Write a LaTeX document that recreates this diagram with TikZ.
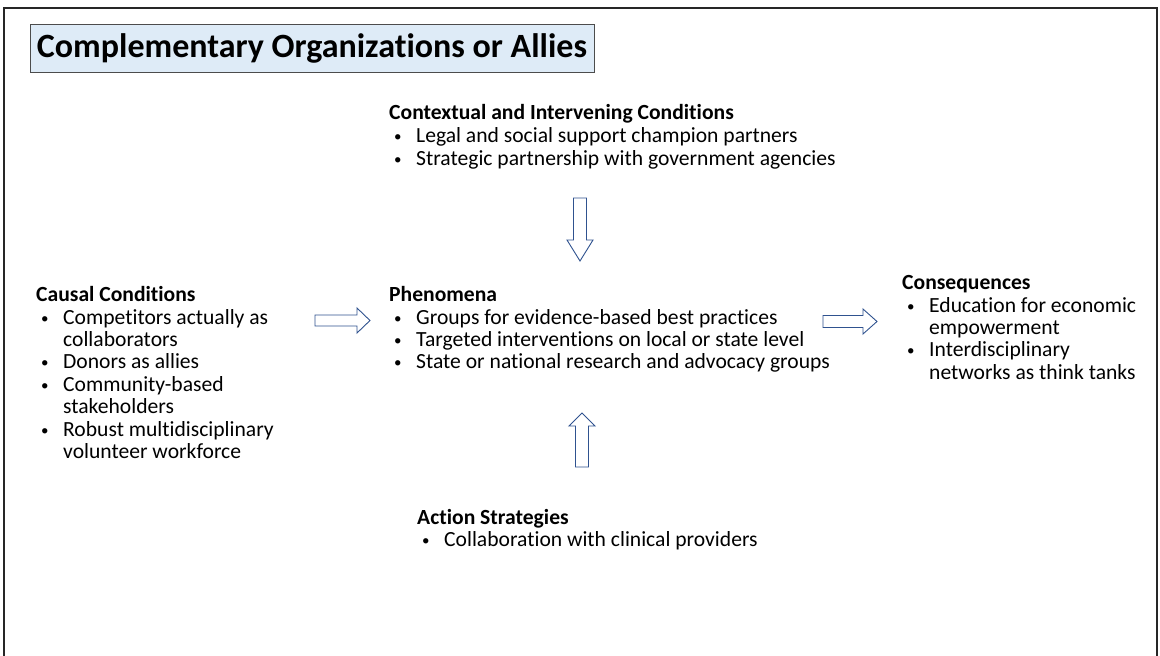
\documentclass[tikz,border=0pt]{standalone}
\usepackage{fontspec}
\setmainfont{Carlito}[Ligatures=NoCommon]
\definecolor{arrowblue}{HTML}{2F528F}
\definecolor{titlefill}{HTML}{DEEBF7}
% bullet column and continuation indent
\newcommand{\bulitem}{\hspace*{5pt}\makebox[22pt][l]{\raisebox{1pt}{\fontsize{15}{15}\selectfont\textbullet}}}
\newcommand{\contline}{\hspace*{27pt}}
% fixed ascent for the first line, so a block's top sits 17pt above its first baseline
\newcommand{\firstline}{\rule{0pt}{17pt}}
\begin{document}
\begin{tikzpicture}[x=1pt,y=-1pt,
  block/.style={anchor=north west,inner sep=0pt,align=left,
    font=\fontsize{21.6}{22.4}\selectfont},
  blockarrow/.style={draw=arrowblue,line width=0.9pt,fill=white,line join=miter}]
\useasboundingbox (0,0) rectangle (1160,656);
% outer frame, open at the bottom
\draw[line width=1.6pt,black!85] (4,660) -- (4,8) -- (1157,8) -- (1157,660);
% title
\node[draw=black!70,line width=0.8pt,fill=titlefill,minimum width=564pt,minimum height=48pt,
  inner sep=0pt,font=\fontsize{34}{36}\selectfont\bfseries] (title) at (312,48) {Complementary Organizations or Allies};
% text blocks (y = first baseline - 17)
\node[block,font=\fontsize{21.6}{23.2}\selectfont] (context) at (389,102) {\firstline\textbf{Contextual and Intervening Conditions}\\
\bulitem Legal and social support champion partners\\
\bulitem Strategic partnership with government agencies};
\node[block] (causal) at (36,284.5) {\firstline\textbf{Causal Conditions}\\
\bulitem Competitors actually as\\
\contline collaborators\\
\bulitem Donors as allies\\
\bulitem Community-based\\
\contline stakeholders\\
\bulitem Robust multidisciplinary\\
\contline volunteer workforce};
\node[block] (phen) at (389,284.5) {\firstline\textbf{Phenomena}\\
\bulitem Groups for evidence-based best practices\\
\bulitem Targeted interventions on local or state level\\
\bulitem State or national research and advocacy groups};
\node[block] (cons) at (902,272.5) {\firstline\textbf{Consequences}\\
\bulitem Education for economic\\
\contline empowerment\\
\bulitem Interdisciplinary\\
\contline networks as think tanks};
\node[block] (action) at (417,507) {\firstline\textbf{Action Strategies}\\
\bulitem Collaboration with clinical providers};
% block arrows
\draw[blockarrow] (315,315) -- (357,315) -- (357,308) -- (370,320.5) -- (357,333) -- (357,326) -- (315,326) -- cycle;
\draw[blockarrow] (823,315.5) -- (863,315.5) -- (863,309) -- (877,321.5) -- (863,334) -- (863,327.5) -- (823,327.5) -- cycle;
\draw[blockarrow] (573.5,198) -- (586.5,198) -- (586.5,240) -- (593,240) -- (580,261) -- (567,240) -- (573.5,240) -- cycle;
\draw[blockarrow] (575.5,467) -- (588.5,467) -- (588.5,426) -- (595,426) -- (582,413) -- (569,426) -- (575.5,426) -- cycle;
\end{tikzpicture}
\end{document}
